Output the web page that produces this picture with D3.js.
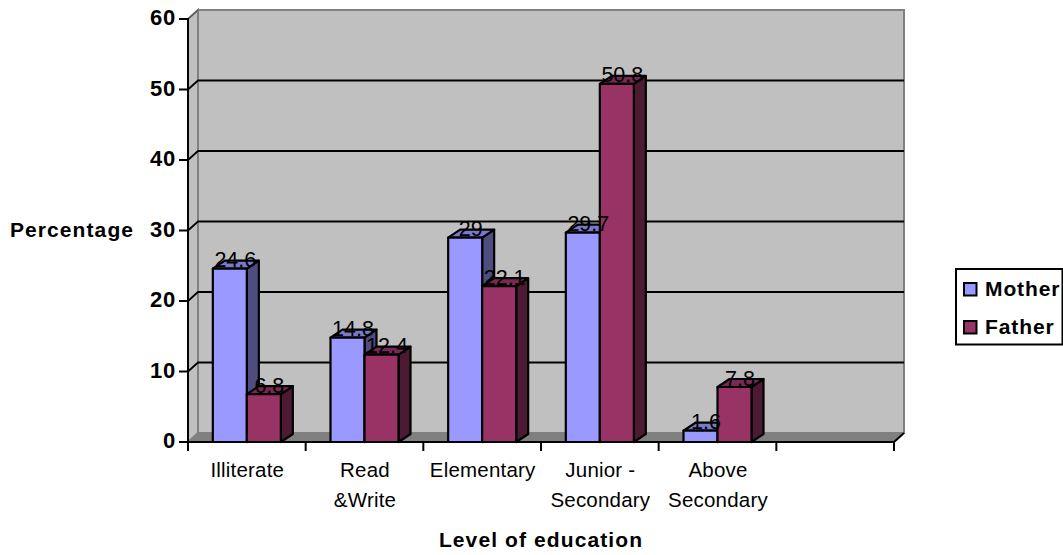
<!DOCTYPE html>
<html>
<head>
<meta charset="utf-8">
<script src="https://cdn.jsdelivr.net/npm/d3@7"></script>
<style>
  html, body { margin: 0; padding: 0; background: #fff; }
  svg { display: block; }
  text { font-family: "Liberation Sans", Arial, sans-serif; fill: #000; }
</style>
</head>
<body>
<svg id="chart" width="1063" height="555"></svg>
<script>
// Education level of parents, percentages per category
const categories = [["Illiterate"], ["Read", "&Write"], ["Elementary"], ["Junior -", "Secondary"], ["Above", "Secondary"], [""]];
const seriesNames = ["Mother", "Father"];
const motherValues = [24.6, 14.8, 29, 29.7, 1.6];
const fatherValues = [6.8, 12.4, 22.1, 50.8, 7.8];
const yTicks = [0, 10, 20, 30, 40, 50, 60];

const svg = d3.select("#chart");

const y = d3.scaleLinear().domain([0, 60]).range([442, 19]);
const x = d3.scaleBand().domain(d3.range(categories.length)).range([188, 894]).padding(0);
const inner = d3.scaleBand().domain(seriesNames).range([0, x.bandwidth()]).paddingInner(0).paddingOuter(0.73);

// Depth of the chart box and of the bars
const wall = { dx: 10, dy: -9 };
const bar = { dx: 12, dy: -8 };

const faces = {
  Mother: { front: "#9999ff", side: "#4d4d80", top: "#7a7acc" },
  Father: { front: "#993366", side: "#4d1a33", top: "#7a2952" }
};

const poly = pts => pts.map(p => p.join(",")).join(" ");

// Left side wall, back wall and floor of the box
const x0 = x.range()[0], x1 = x.range()[1], yBase = y(0), yTop = y(60);
svg.append("polygon")
  .attr("points", poly([[x0, yBase], [x0, yTop], [x0 + wall.dx, yTop + wall.dy], [x0 + wall.dx, yBase + wall.dy]]))
  .attr("fill", "#c0c0c0").attr("stroke", "#808080").attr("stroke-width", 2);
svg.append("rect")
  .attr("x", x0 + wall.dx).attr("y", yTop + wall.dy)
  .attr("width", x1 - x0).attr("height", yBase - yTop)
  .attr("fill", "#c0c0c0").attr("stroke", "#808080").attr("stroke-width", 2);
svg.append("polygon")
  .attr("points", poly([[x0, yBase], [x0 + wall.dx, yBase + wall.dy], [x1 + wall.dx, yBase + wall.dy], [x1, yBase]]))
  .attr("fill", "#808080");

// Gridlines running along the back wall and folding down the side wall
const grid = svg.append("g").attr("fill", "none").attr("stroke", "#000").attr("stroke-width", 1.8);
yTicks.filter(t => t > 0 && t < 60).forEach(t => {
  grid.append("polyline")
    .attr("points", poly([[x0, y(t)], [x0 + wall.dx, y(t) + wall.dy], [x1 + wall.dx, y(t) + wall.dy]]));
});
grid.append("line").attr("stroke", "#555").attr("stroke-width", 1.2)
  .attr("x1", x0).attr("y1", yTop).attr("x2", x0 + wall.dx).attr("y2", yTop + wall.dy);

// Value axis
const yAxis = svg.append("g").attr("stroke", "#000").attr("stroke-width", 2);
yAxis.append("line").attr("x1", x0).attr("x2", x0).attr("y1", yTop - 1).attr("y2", yBase + 1);
yAxis.selectAll("line.tick").data(yTicks).join("line").attr("class", "tick")
  .attr("x1", x0 - 9).attr("x2", x0).attr("y1", d => y(d)).attr("y2", d => y(d));
svg.selectAll("text.ytick").data(yTicks).join("text").attr("class", "ytick")
  .attr("x", x0 - 12).attr("y", d => y(d) + 6).attr("text-anchor", "end")
  .attr("font-size", 22).attr("font-weight", "bold").attr("letter-spacing", 0.8).text(d => d);

// Category axis
const xAxis = svg.append("g").attr("stroke", "#000").attr("stroke-width", 2);
xAxis.append("line").attr("x1", x0 - 1).attr("x2", x1 + 1).attr("y1", yBase).attr("y2", yBase);
xAxis.selectAll("line.tick").data(d3.range(categories.length + 1)).join("line").attr("class", "tick")
  .attr("x1", i => x0 + i * x.bandwidth()).attr("x2", i => x0 + i * x.bandwidth())
  .attr("y1", yBase).attr("y2", yBase + 9);
xAxis.append("line").attr("x1", x1).attr("y1", yBase).attr("x2", x1 + wall.dx).attr("y2", yBase + wall.dy);

const catLabels = svg.selectAll("text.cat").data(categories).join("text").attr("class", "cat")
  .attr("text-anchor", "middle").attr("font-size", 20.5).attr("letter-spacing", 0.2);
catLabels.each(function (lines, i) {
  d3.select(this).selectAll("tspan").data(lines).join("tspan")
    .attr("x", x(i) + x.bandwidth() / 2 + 0.5)
    .attr("y", (d, j) => 477 + j * 29.5)
    .text(d => d);
});

// Bars, drawn category by category so that neighbours overlap correctly
const seriesValues = { Mother: motherValues, Father: fatherValues };
const barsLayer = svg.append("g").attr("stroke", "#000").attr("stroke-width", 2.2).attr("stroke-linejoin", "round");
const labelsLayer = svg.append("g");
d3.range(motherValues.length).forEach(i => {
  seriesNames.forEach(name => {
    const v = seriesValues[name][i];
    const left = x(i) + inner(name), right = left + inner.bandwidth();
    const topY = y(v), f = faces[name];
    barsLayer.append("polygon")
      .attr("points", poly([[right, yBase], [right, topY], [right + bar.dx, topY + bar.dy], [right + bar.dx, yBase + bar.dy]]))
      .attr("fill", f.side);
    barsLayer.append("polygon")
      .attr("points", poly([[left, topY], [left + bar.dx, topY + bar.dy], [right + bar.dx, topY + bar.dy], [right, topY]]))
      .attr("fill", f.top);
    barsLayer.append("rect")
      .attr("x", left).attr("y", topY).attr("width", right - left).attr("height", yBase - topY)
      .attr("fill", f.front);
    labelsLayer.append("text")
      .attr("x", (left + right) / 2 + 5.5).attr("y", topY - 1.5)
      .attr("text-anchor", "middle").attr("font-size", 21.5).attr("fill", "#111")
      .text(v);
  });
});

// Axis titles
svg.append("text").attr("x", 72).attr("y", 237).attr("text-anchor", "middle")
  .attr("font-size", 21).attr("font-weight", "bold").attr("letter-spacing", 1.1).text("Percentage");
svg.append("text").attr("x", 541).attr("y", 547).attr("text-anchor", "middle")
  .attr("font-size", 21).attr("font-weight", "bold").attr("letter-spacing", 1.1).text("Level of education");

// Legend
svg.append("rect").attr("x", 956).attr("y", 269).attr("width", 106.5).attr("height", 75.5)
  .attr("fill", "#fff").attr("stroke", "#000").attr("stroke-width", 2);
const legend = svg.selectAll("g.legend").data(seriesNames).join("g").attr("class", "legend")
  .attr("transform", (d, i) => `translate(964,${283 + i * 38})`);
legend.append("rect").attr("width", 12.5).attr("height", 12.5)
  .attr("fill", d => faces[d].front).attr("stroke", "#000").attr("stroke-width", 2);
legend.append("text").attr("x", 21).attr("y", 13)
  .attr("font-size", 21).attr("font-weight", "bold").attr("letter-spacing", 0.9).text(d => d);
</script>
</body>
</html>
